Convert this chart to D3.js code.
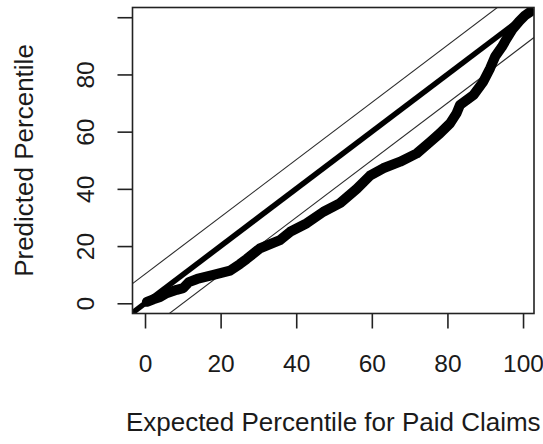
<!DOCTYPE html>
<html>
<head>
<meta charset="utf-8">
<script src="https://cdn.jsdelivr.net/npm/d3@7"></script>
<style>
  body { margin: 0; background: #fff; }
  text { font-family: "Liberation Sans", Arial, sans-serif; fill: #1a1a1a; }
</style>
</head>
<body>
<div id="visualization-area"></div>
<script>
// expected vs predicted percentile
var expected = [0.5, 2.2, 4.0, 5.7, 8.4, 10.1, 11.6, 13.8, 18.1, 22.5, 25.1, 26.9, 30.4, 33.1,
    35.7, 38.4, 42.8, 47.2, 51.6, 56.0, 59.5, 63.0, 67.5, 71.9, 75.4, 78.0, 80.7, 82.4,
    83.3, 86.9, 89.5, 91.3, 92.6, 94.4, 95.8, 97.1, 99.0, 100.5, 101.8];
var predicted = [0.5, 1.4, 2.2, 3.5, 4.7, 5.3, 7.4, 8.5, 9.9, 11.4, 13.7, 15.5, 19.2, 20.7,
    22.1, 25.0, 28.0, 32.0, 35.0, 40.0, 44.6, 47.2, 49.5, 52.4, 56.4, 59.4, 62.9, 66.4,
    69.3, 72.8, 77.5, 82.2, 86.2, 89.6, 92.8, 95.6, 98.6, 100.6, 101.8];

// abline(0,1) and the two band lines
var bandIntercepts = [10.2, -10];
var xTicks = [0, 20, 40, 60, 80, 100];
var yTicks = [0, 20, 40, 60, 80, 100];
var yTickLabels = ["0", "20", "40", "60", "80", ""];

var width = 543, height = 444;
var plotLeft = 132.5, plotRight = 534, plotTop = 7.5, plotBottom = 313.5;

var svg = d3.select("#visualization-area")
    .append("svg")
    .attr("width", width)
    .attr("height", height);

var xScale = d3.scaleLinear()
    .domain([-3.31, 102.9])
    .range([plotLeft, plotRight]);

var yScale = d3.scaleLinear()
    .domain([-3.57, 103.4])
    .range([plotBottom, plotTop]);

svg.append("clipPath")
    .attr("id", "plot-clip")
    .append("rect")
    .attr("x", plotLeft)
    .attr("y", plotTop)
    .attr("width", plotRight - plotLeft)
    .attr("height", plotBottom - plotTop);

var plot = svg.append("g").attr("clip-path", "url(#plot-clip)");

var xd = xScale.domain();

// thin band lines
bandIntercepts.forEach(function (b) {
    plot.append("line")
        .attr("x1", xScale(xd[0]))
        .attr("y1", yScale(xd[0] + b))
        .attr("x2", xScale(xd[1]))
        .attr("y2", yScale(xd[1] + b))
        .attr("stroke", "#2a2a2a")
        .attr("stroke-width", 1.1);
});

// thick y = x line
plot.append("line")
    .attr("x1", xScale(xd[0]))
    .attr("y1", yScale(xd[0]))
    .attr("x2", xScale(xd[1]))
    .attr("y2", yScale(xd[1]))
    .attr("stroke", "black")
    .attr("stroke-width", 5.5);

var values = expected.map(function (e, i) {
    return { x: e, y: predicted[i] };
});

var line = d3.line()
    .x(function (d) { return xScale(d.x); })
    .y(function (d) { return yScale(d.y); });

plot.append("path")
    .datum(values)
    .attr("d", line)
    .attr("stroke", "black")
    .attr("stroke-width", 10)
    .attr("stroke-linejoin", "round")
    .attr("stroke-linecap", "round")
    .attr("fill", "none");

// box
svg.append("rect")
    .attr("x", plotLeft)
    .attr("y", plotTop)
    .attr("width", plotRight - plotLeft)
    .attr("height", plotBottom - plotTop)
    .attr("fill", "none")
    .attr("stroke", "#222")
    .attr("stroke-width", 1.6);

// axes
var xAxis = d3.axisBottom(xScale)
    .tickValues(xTicks)
    .tickSize(15)
    .tickSizeOuter(0);

var yAxis = d3.axisLeft(yScale)
    .tickValues(yTicks)
    .tickFormat(function (d, i) { return yTickLabels[i]; })
    .tickSize(15)
    .tickSizeOuter(0);

var gx = svg.append("g")
    .attr("transform", "translate(0," + plotBottom + ")")
    .call(xAxis);
gx.select(".domain").remove();
gx.selectAll(".tick line").attr("stroke", "#222").attr("stroke-width", 1.6);
gx.selectAll(".tick text")
    .attr("font-size", 24.5)
    .attr("dy", null)
    .attr("y", 58.5)
    .attr("fill", "#1a1a1a")
    .style("font-family", "Liberation Sans, Arial, sans-serif");

var gy = svg.append("g")
    .attr("transform", "translate(" + plotLeft + ",0)")
    .call(yAxis);
gy.select(".domain").remove();
gy.selectAll(".tick line").attr("stroke", "#222").attr("stroke-width", 1.6);
gy.selectAll(".tick text")
    .attr("font-size", 24.5)
    .attr("x", null)
    .attr("dy", null)
    .attr("text-anchor", "middle")
    .attr("fill", "#1a1a1a")
    .attr("transform", "translate(-38.5,0) rotate(-90)")
    .style("font-family", "Liberation Sans, Arial, sans-serif");

// titles
svg.append("text")
    .attr("x", (plotLeft + plotRight) / 2)
    .attr("y", 431)
    .attr("text-anchor", "middle")
    .attr("font-size", 26)
    .text("Expected Percentile for Paid Claims");

svg.append("text")
    .attr("transform", "translate(33," + (plotTop + plotBottom) / 2 + ") rotate(-90)")
    .attr("text-anchor", "middle")
    .attr("font-size", 26)
    .text("Predicted Percentile");
</script>
</body>
</html>
